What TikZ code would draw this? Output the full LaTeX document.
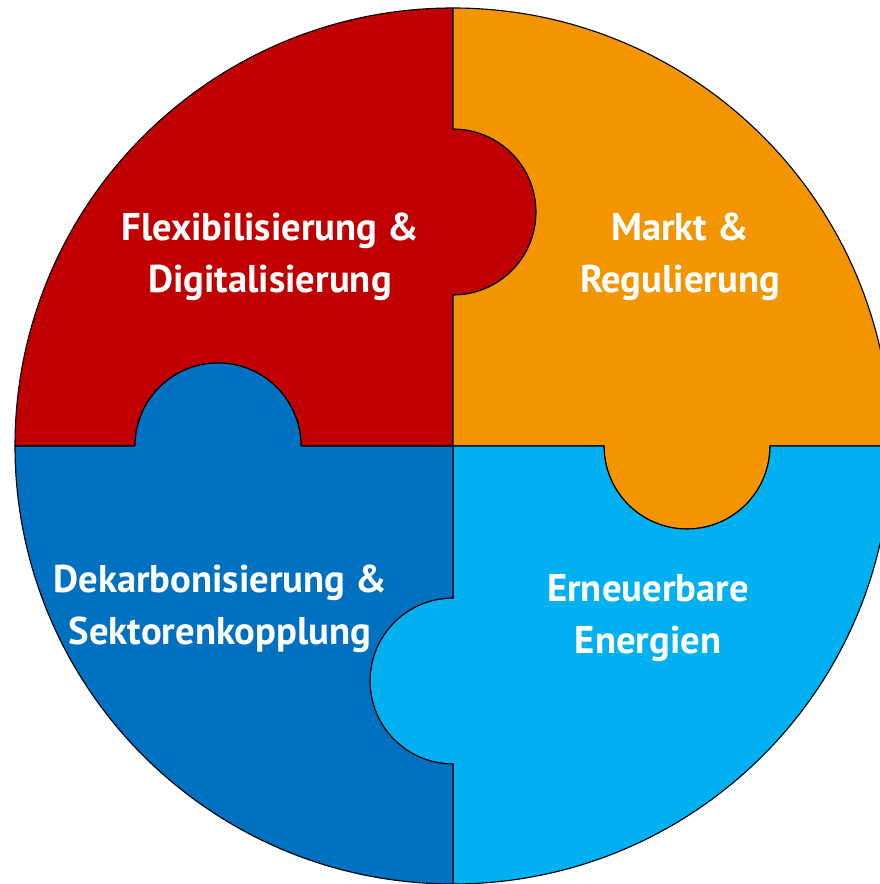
\documentclass[tikz,border=0pt]{standalone}
\usepackage{fontspec}
\setsansfont{PT Sans}

\definecolor{pzred}{HTML}{C00000}
\definecolor{pzorange}{HTML}{F39500}
\definecolor{pzblue}{HTML}{0070C0}
\definecolor{pzcyan}{HTML}{00B0F0}

\begin{document}
\begin{tikzpicture}[x=0.025cm,y=0.025cm,
  piece/.style={draw=black,line width=0.8pt,line join=round},
  lbl/.style={text=white,align=center,font=\sffamily\bfseries\fontsize{27.5}{37}\selectfont}]
\useasboundingbox (0,0) rectangle (880,884);
\clip (0,0) rectangle (880,884);

\coordinate (M) at (453,438);

% top left
\path[piece,fill=pzred] (M) -- (453,589) arc[start angle=-90,end angle=90,radius=83]
  -- (453,876) arc[start angle=90,end angle=180,radius=438]
  -- (135,438) arc[start angle=180,end angle=0,radius=83] -- cycle;
% top right
\path[piece,fill=pzorange] (M) -- (453,589) arc[start angle=-90,end angle=90,radius=83]
  -- (453,876) arc[start angle=90,end angle=0,radius=438]
  -- (770,438) arc[start angle=0,end angle=-180,radius=83] -- cycle;
% bottom right
\path[piece,fill=pzcyan] (M) -- (453,286) arc[start angle=90,end angle=270,radius=83]
  -- (453,0) arc[start angle=-90,end angle=0,radius=438]
  -- (770,438) arc[start angle=0,end angle=-180,radius=83] -- cycle;
% bottom left
\path[piece,fill=pzblue] (M) -- (301,438) arc[start angle=0,end angle=180,radius=83]
  -- (15,438) arc[start angle=180,end angle=270,radius=438]
  -- (453,120) arc[start angle=270,end angle=90,radius=83] -- cycle;

\node[lbl] (flex) at (270,627) {Flexibilisierung \&\\Digitalisierung};
\node[lbl] (markt) at (680,627) {Markt \&\\Regulierung};
\node[lbl] (dekarb) at (220,275) {Dekarbonisierung \&\\Sektorenkopplung};
\node[lbl] (ern) at (648,266) {Erneuerbare\\Energien};
\end{tikzpicture}
\end{document}
